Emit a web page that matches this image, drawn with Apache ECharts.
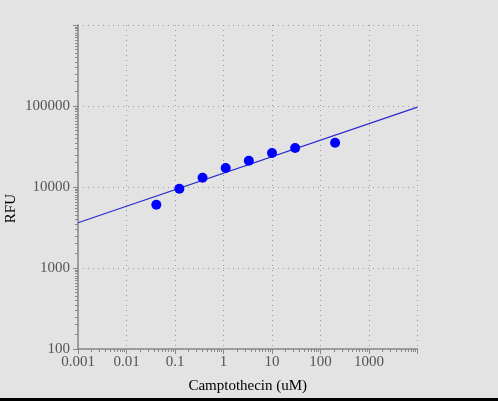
<!DOCTYPE html>
<html>
<head>
<meta charset="utf-8">
<script src="https://cdn.jsdelivr.net/npm/echarts@6/dist/echarts.min.js"></script>
<style>
html,body{margin:0;padding:0;background:#e3e3e3;}
#c{width:498px;height:401px;}
</style>
</head>
<body>
<div id="c"></div>
<script>
var concentrations = [0.0412, 0.123, 0.37, 1.11, 3.33, 10, 30, 200];
var rfuValues = [6050, 9530, 13000, 17200, 21100, 26300, 30300, 35200];
var fitX = [0.001, 10000];
var fitY = [3620, 97000];
var xTickLabels = ['0.001', '0.01', '0.1', '1', '10', '100', '1000'];
var yTickLabels = ['100', '1000', '10000', '100000'];

var points = concentrations.map(function (c, i) { return [c, rfuValues[i]]; });
var fitLine = fitX.map(function (c, i) { return [c, fitY[i]]; });

function fmt(v, list) {
  var s = String(Number(Number(v).toPrecision(3)));
  return list.indexOf(s) >= 0 ? s : '';
}

var chart = echarts.init(document.getElementById('c'));
var font = '"Liberation Serif", "DejaVu Serif", serif';
var axisGray = '#888888';
chart.setOption({
  backgroundColor: '#e3e3e3',
  animation: false,
  grid: { left: 78, top: 25, right: 80.5, bottom: 52 },
  xAxis: {
    type: 'log', logBase: 10, min: 0.001, max: 10000,
    name: 'Camptothecin (uM)', nameLocation: 'middle', nameGap: 30,
    nameTextStyle: { color: '#000', fontFamily: font, fontSize: 15 },
    axisLine: { show: true, lineStyle: { color: axisGray, width: 1.5 } },
    axisTick: { show: true, length: 5, lineStyle: { color: axisGray } },
    minorTick: { show: true, splitNumber: 10, length: 3, lineStyle: { color: axisGray } },
    axisLabel: {
      color: '#555', fontFamily: font, fontSize: 15, margin: 6,
      formatter: function (v) { return fmt(v, xTickLabels); }
    },
    splitLine: { show: true, lineStyle: { color: '#9a9a9a', type: [1, 4], width: 1 } }
  },
  yAxis: {
    type: 'log', logBase: 10, min: 100, max: 1000000,
    axisLine: { show: true, lineStyle: { color: axisGray, width: 1.5 } },
    axisTick: { show: true, length: 5, lineStyle: { color: axisGray } },
    minorTick: { show: true, splitNumber: 18, length: 3, lineStyle: { color: axisGray } },
    axisLabel: {
      color: '#555', fontFamily: font, fontSize: 15, margin: 8,
      formatter: function (v) { return fmt(v, yTickLabels); }
    },
    splitLine: { show: true, lineStyle: { color: '#9a9a9a', type: [1, 4], width: 1 } }
  },
  series: [
    {
      type: 'line', data: fitLine, symbol: 'none', silent: true,
      lineStyle: { color: '#2a2ad0', width: 1.2 }, z: 2
    },
    {
      type: 'scatter', data: points, symbol: 'circle', symbolSize: 10,
      itemStyle: { color: '#0000ff', opacity: 1 }, z: 3
    }
  ],
  graphic: [
    {
      type: 'text', left: 4, top: 194, rotation: Math.PI / 2,
      style: { text: 'RFU', fill: '#000', font: '15px ' + font }
    },
    {
      type: 'rect', left: 0, top: 398, shape: { width: 498, height: 3 },
      style: { fill: '#000' }
    }
  ]
});
</script>
</body>
</html>
